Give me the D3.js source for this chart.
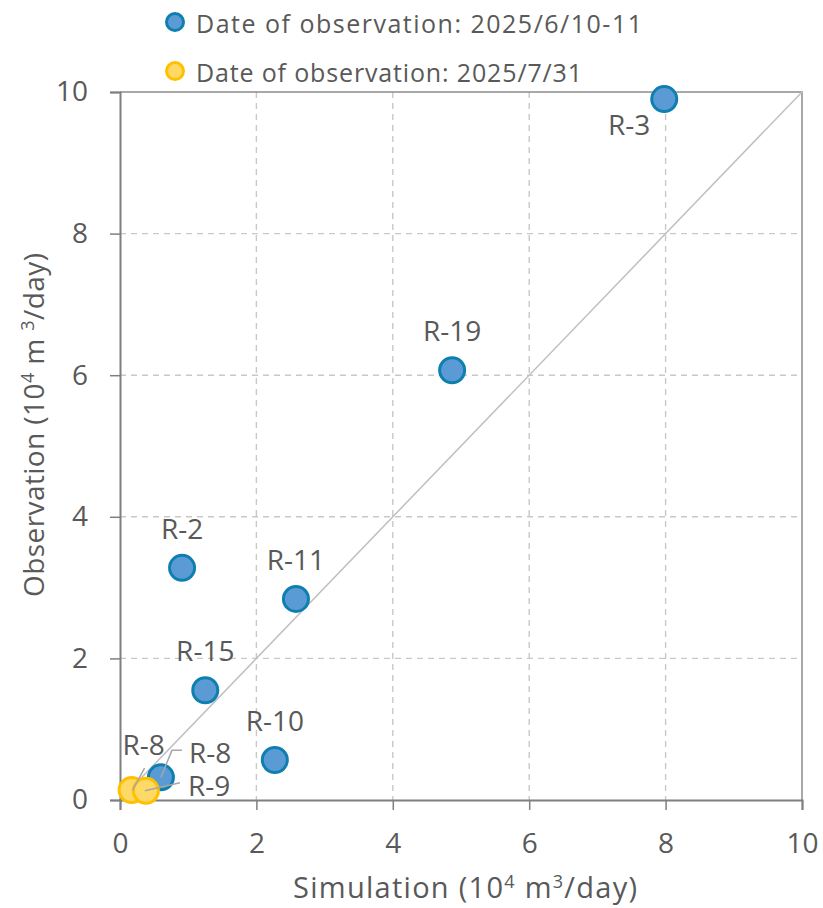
<!DOCTYPE html>
<html><head><meta charset="utf-8">
<script src="https://cdn.jsdelivr.net/npm/d3@7"></script>
<style>body{margin:0;background:#fff}svg{display:block}text{font-family:"Open Sans",Lato,sans-serif;fill:#595959}</style>
</head><body><svg id="c" width="823" height="908"></svg>
<script>
const xTicks=[0,2,4,6,8,10];
const yTicks=[0,2,4,6,8,10];
const seriesNames=["Date of observation: 2025/6/10-11","Date of observation: 2025/7/31"];
const juneLabels=["R-3","R-19","R-2","R-11","R-15","R-10","R-8"];
const juneSim=[7.98,4.87,0.91,2.58,1.25,2.27,0.60];
const juneObs=[9.90,6.07,3.28,2.84,1.55,0.565,0.32];
const julyLabels=["R-8","R-9"];
const julySim=[0.17,0.38];
const julyObs=[0.14,0.13];

const FONT='"Open Sans",Lato,sans-serif';
function fit(sel,target){const n=sel.node();const w=n.getComputedTextLength();const c=n.textContent.length;sel.attr("letter-spacing",(target-w)/(c-1));}

const svg=d3.select("#c");
const M={l:120,r:802,t:92,b:800};
const x=d3.scaleLinear().domain([0,10]).range([M.l,M.r]);
const y=d3.scaleLinear().domain([0,10]).range([M.b,M.t]);
const g=svg.append("g");
// grid
g.selectAll(".gx").data(xTicks.filter(d=>d>0&&d<10)).join("line")
 .attr("x1",d=>x(d)).attr("x2",d=>x(d)).attr("y1",M.t).attr("y2",M.b)
 .attr("stroke","#c8c8c8").attr("stroke-width",1.4).attr("stroke-dasharray","6,5");
g.selectAll(".gy").data(yTicks.filter(d=>d>0&&d<10)).join("line")
 .attr("y1",d=>y(d)).attr("y2",d=>y(d)).attr("x1",M.l).attr("x2",M.r)
 .attr("stroke","#c8c8c8").attr("stroke-width",1.4).attr("stroke-dasharray","6,5");
// top and right border
g.append("path").attr("d",`M${M.l},${M.t}H${M.r}V${M.b}`).attr("fill","none").attr("stroke","#8c8c8c").attr("stroke-width",1.5);
// 1:1 line
g.append("line").attr("x1",x(0)).attr("y1",y(0)).attr("x2",x(10)).attr("y2",y(10)).attr("stroke","#bfbfbf").attr("stroke-width",1.5);
// axes
const xa=g.append("g").attr("transform",`translate(0,${M.b})`).call(d3.axisBottom(x).tickValues(xTicks).tickSize(10).tickPadding(23));
const ya=g.append("g").attr("transform",`translate(${M.l},0)`).call(d3.axisLeft(y).tickValues(yTicks).tickSize(10).tickPadding(22));
[xa,ya].forEach(a=>{a.select(".domain").attr("stroke","#7f7f7f").attr("stroke-width",2);
 a.selectAll(".tick line").attr("stroke","#7f7f7f").attr("stroke-width",1.5);
 a.selectAll(".tick text").attr("font-size",28).style("font-family",FONT).attr("fill","#595959");});
// titles
const xt=svg.append("text").attr("x",293).attr("y",898).attr("font-size",29)
 .html('Simulation (10<tspan dy="-10" font-size="18">4</tspan><tspan dy="10"> m</tspan><tspan dy="-10" font-size="18">3</tspan><tspan dy="10">/day)</tspan>');
fit(xt,344);
const yt=svg.append("text").attr("transform","translate(44,597) rotate(-90)").attr("font-size",28)
 .html('Observation (10<tspan dy="-10" font-size="18">4</tspan><tspan dy="10"> m </tspan><tspan dy="-10" font-size="18">3</tspan><tspan dy="10">/day)</tspan>');
fit(yt,344);
// points
const blue={fill:"#5b9bd5",stroke:"#0f7fb0"}, yel={fill:"#ffd966",stroke:"#ffc000"};
const june=juneLabels.map((l,i)=>({l,sx:juneSim[i],oy:juneObs[i]}));
const july=julyLabels.map((l,i)=>({l,sx:julySim[i],oy:julyObs[i]}));
svg.append("g").selectAll("circle").data(june).join("circle").attr("cx",d=>x(d.sx)).attr("cy",d=>y(d.oy)).attr("r",12.5)
 .attr("fill",blue.fill).attr("stroke",blue.stroke).attr("stroke-width",3);
svg.append("g").selectAll("circle").data(july).join("circle").attr("cx",d=>x(d.sx)).attr("cy",d=>y(d.oy)).attr("r",12.5)
 .attr("fill",yel.fill).attr("stroke",yel.stroke).attr("stroke-width",3);
// labels (offsets relative to point)
const off={"R-3":[-35,36],"R-19":[0,-29],"R-2":[0,-29],"R-11":[0,-29],"R-15":[0,-29],"R-10":[0,-29]};
const lab=svg.append("g");
june.forEach(d=>{ if(off[d.l]){ lab.append("text").attr("x",x(d.sx)+off[d.l][0]).attr("y",y(d.oy)+off[d.l][1]).attr("text-anchor","middle").attr("font-size",28).text(d.l);} });
// cluster labels with leader lines
const ld=svg.append("g").attr("stroke","#a6a6a6").attr("stroke-width",1.5).attr("fill","none");
const b8=june.find(d=>d.l==="R-8"), y8=july[0], y9=july[1];
ld.append("path").attr("d",`M${x(b8.sx)+21},${y(b8.oy)-27}H${x(b8.sx)+11}L${x(b8.sx)},${y(b8.oy)}`);
lab.append("text").attr("x",x(b8.sx)+28).attr("y",y(b8.oy)-14).attr("font-size",28).text("R-8");
ld.append("path").attr("d",`M${x(y8.sx)+13},${y(y8.oy)-22}L${x(y8.sx)+1},${y(y8.oy)}`);
lab.append("text").attr("x",x(y8.sx)+12).attr("y",y(y8.oy)-35).attr("text-anchor","middle").attr("font-size",28).text("R-8");
ld.append("path").attr("d",`M${x(y9.sx)+34},${y(y9.oy)-8}L${x(y9.sx)-1},${y(y9.oy)}`);
lab.append("text").attr("x",x(y9.sx)+42).attr("y",y(y9.oy)+5).attr("font-size",28).text("R-9");
ld.raise();
// legend
const lg=svg.append("g");
const legW=[446,386];
[blue,yel].forEach((c,i)=>{
 lg.append("circle").attr("cx",175).attr("cy",22+i*49).attr("r",8.5).attr("fill",c.fill).attr("stroke",c.stroke).attr("stroke-width",3);
 const t=lg.append("text").attr("x",196).attr("y",32.5+i*49).attr("font-size",25).text(seriesNames[i]);
 fit(t,legW[i]);
});
</script></body></html>
